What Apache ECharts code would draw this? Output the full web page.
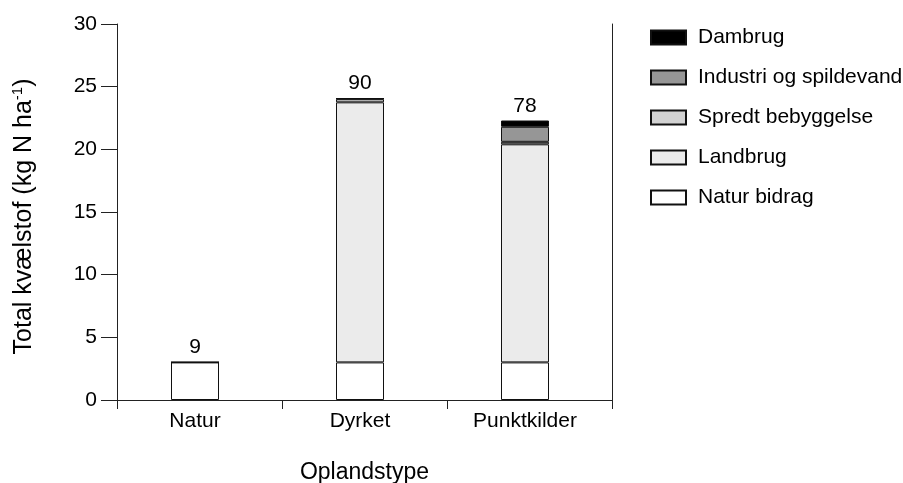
<!DOCTYPE html>
<html>
<head>
<meta charset="utf-8">
<script src="https://cdn.jsdelivr.net/npm/echarts@6/dist/echarts.min.js"></script>
<style>
  html, body { margin: 0; padding: 0; background: #fff; }
  #chart { width: 903px; height: 483px; }
</style>
</head>
<body>
<div id="chart"></div>
<script>
// Catchment types on the x axis
const categories = ['Natur', 'Dyrket', 'Punktkilder'];

// Nitrogen contributions (kg N per ha), stacked bottom to top
const naturBidrag = [3.0, 3.0, 3.0];
const landbrug    = [0, 20.75, 17.4];
const spredt      = [0, 0.25, 0.2];
const industri    = [0, 0.05, 1.2];
const dambrug     = [0, 0, 0.5];

// Number of catchments in each group, shown above the bars
const counts = [9, 90, 78];

// Value axis ticks
const yMin = 0, yMax = 30, yStep = 5;

const FONT = '"Liberation Sans", Arial, sans-serif';
const INK = '#000';
const LINE = '#222';

const seriesDefs = [
  { name: 'Natur bidrag',           data: naturBidrag, color: '#ffffff' },
  { name: 'Landbrug',               data: landbrug,    color: '#ebebeb' },
  { name: 'Spredt bebyggelse',      data: spredt,      color: '#d2d2d2' },
  { name: 'Industri og spildevand', data: industri,    color: '#969696' },
  { name: 'Dambrug',                data: dambrug,     color: '#000000' }
];

const series = seriesDefs.map((s, i) => ({
  name: s.name,
  type: 'bar',
  stack: 'total',
  xAxisIndex: 0,
  yAxisIndex: 0,
  barWidth: 48,
  data: s.data,
  itemStyle: { color: s.color, borderColor: '#111', borderWidth: 1 },
  emphasis: { disabled: true },
  label: i === seriesDefs.length - 1 ? {
    show: true,
    position: 'top',
    distance: 4,
    formatter: p => String(counts[p.dataIndex]),
    fontFamily: FONT,
    fontSize: 21,
    color: INK
  } : { show: false }
}));

const chart = echarts.init(document.getElementById('chart'), null, { renderer: 'canvas' });

const gridBase = { top: 24, bottom: 83, containLabel: false, outerBoundsMode: 'none' };

chart.setOption({
  animation: false,
  backgroundColor: '#fff',
  textStyle: { fontFamily: FONT },
  legend: {
    orient: 'vertical',
    left: 645,
    top: 22,
    icon: 'rect',
    itemWidth: 35,
    itemHeight: 14,
    itemGap: 19,
    selectedMode: false,
    data: seriesDefs.map(s => s.name).reverse(),
    textStyle: { fontFamily: FONT, fontSize: 21, color: INK, lineHeight: 21, padding: [0, 0, 0, 7] }
  },
  grid: [
    // bars
    Object.assign({ left: 112.5, width: 495 }, gridBase),
    // frame with axes and ticks
    Object.assign({ left: 117, width: 495 }, gridBase)
  ],
  xAxis: [
    {
      type: 'category', gridIndex: 0, data: categories,
      axisLine: { show: false }, axisTick: { show: false },
      axisLabel: { fontFamily: FONT, fontSize: 21, color: INK, margin: 11 }
    },
    {
      type: 'category', gridIndex: 1, data: categories, position: 'bottom',
      axisLine: { show: true, lineStyle: { color: LINE, width: 1 } },
      axisTick: { show: true, interval: 0, length: 9, lineStyle: { color: LINE, width: 1 } },
      axisLabel: { show: false },
      name: 'Oplandstype', nameLocation: 'middle', nameGap: 61,
      nameTextStyle: { fontFamily: FONT, fontSize: 23, color: INK }
    },
    {
      type: 'category', gridIndex: 1, data: categories, position: 'top',
      axisLine: { show: true, lineStyle: { color: LINE, width: 1 } },
      axisTick: { show: false }, axisLabel: { show: false }
    }
  ],
  yAxis: [
    {
      type: 'value', gridIndex: 0, min: yMin, max: yMax, interval: yStep,
      show: false
    },
    {
      type: 'value', gridIndex: 1, min: yMin, max: yMax, interval: yStep, position: 'left',
      axisLine: { show: true, lineStyle: { color: LINE, width: 1 } },
      axisTick: { show: true, length: 16, lineStyle: { color: LINE, width: 1 } },
      axisLabel: { fontFamily: FONT, fontSize: 21, color: INK, margin: 20 },
      splitLine: { show: false },
      name: '{a|Total kvælstof (kg N ha}{s|-1}{a|)}',
      nameLocation: 'middle', nameGap: 79,
      nameTextStyle: {
        fontFamily: FONT, color: INK,
        padding: [0, 9, 0, 0],
        rich: {
          a: { fontFamily: FONT, fontSize: 25, color: INK, lineHeight: 28 },
          s: { fontFamily: FONT, fontSize: 15, color: INK, lineHeight: 15, verticalAlign: 'top' }
        }
      }
    },
    {
      type: 'value', gridIndex: 1, min: yMin, max: yMax, interval: yStep, position: 'right',
      axisLine: { show: true, lineStyle: { color: LINE, width: 1 } },
      axisTick: { show: false }, axisLabel: { show: false }, splitLine: { show: false }
    }
  ],
  series: series
});
</script>
</body>
</html>
